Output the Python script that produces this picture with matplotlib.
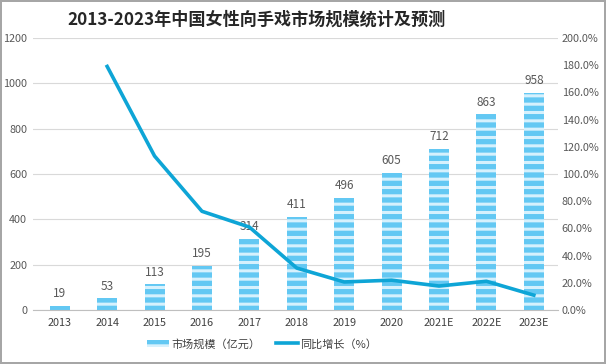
import matplotlib.pyplot as plt
import matplotlib as mpl
import numpy as np
from matplotlib.patches import Patch
from matplotlib.lines import Line2D

plt.rcParams['font.family'] = ['Noto Sans CJK SC', 'DejaVu Sans']
mpl.rcParams['hatch.linewidth'] = 2.2

years = ['2013', '2014', '2015', '2016', '2017', '2018', '2019', '2020', '2021E', '2022E', '2023E']
market = [19, 53, 113, 195, 314, 411, 496, 605, 712, 863, 958]
growth = [None, 179.0, 113.2, 72.6, 61.0, 30.9, 20.7, 22.0, 17.7, 21.2, 11.0]

bar_color = '#63c8f3'
stripe_color = '#d6f1fd'
line_color = '#0ea5d6'

fig = plt.figure(figsize=(6.06, 3.64), dpi=100)
fig.patch.set_edgecolor('#a6a6a6')
fig.patch.set_linewidth(1.5)
ax = fig.add_axes([0.054, 0.148, 0.866, 0.748])
ax2 = ax.twinx()

x = np.arange(len(years))
bars = ax.bar(x, market, width=0.42, color=bar_color, hatch='--',
              edgecolor=stripe_color, linewidth=0, zorder=2)
for b, v in zip(bars, market):
    ax.text(b.get_x() + b.get_width() / 2, v + 24, str(v), ha='center', va='bottom',
            fontsize=8.5, color='#595959')

gx = [i for i, g in enumerate(growth) if g is not None]
gy = [g for g in growth if g is not None]
ax2.plot(gx, gy, color=line_color, lw=2.6, solid_joinstyle='round', zorder=3)

ax.set_ylim(0, 1200)
ax.set_yticks(range(0, 1201, 200))
ax2.set_ylim(0, 200)
ax2.set_yticks(range(0, 201, 20))
ax2.set_yticklabels([f'{v:.1f}%' for v in range(0, 201, 20)])
ax.set_xlim(-0.57, 10.5)
ax.set_xticks(x)
ax.set_xticklabels(years)

ax.grid(axis='y', color='#d9d9d9', lw=0.8, zorder=0)
ax.set_axisbelow(True)
for a in (ax, ax2):
    for s in a.spines.values():
        s.set_visible(False)
    a.tick_params(length=0, labelsize=7.8, colors='#595959')
ax.spines['bottom'].set_visible(True)
ax.spines['bottom'].set_color('#bfbfbf')
ax.tick_params(axis='x', pad=6, labelcolor='#404040')
ax.tick_params(axis='y', pad=4)
ax2.tick_params(axis='y', pad=3)

fig.text(0.423, 0.945, '2013-2023年中国女性向手戏市场规模统计及预测', ha='center', va='center',
         fontsize=12.3, fontweight='bold', color='#262626')

handles = [Patch(facecolor=bar_color, hatch='--', edgecolor=stripe_color, linewidth=0),
           Line2D([0], [0], color=line_color, lw=2.6)]
fig.legend(handles, ['市场规模（亿元）', '同比增长（%）'], loc='center', ncol=2,
           bbox_to_anchor=(0.432, 0.055), frameon=False, fontsize=8,
           handlelength=2.0, handletextpad=0.2, columnspacing=1.4, labelcolor='#404040')

fig.savefig('out.png', dpi=100, edgecolor=fig.get_edgecolor())
